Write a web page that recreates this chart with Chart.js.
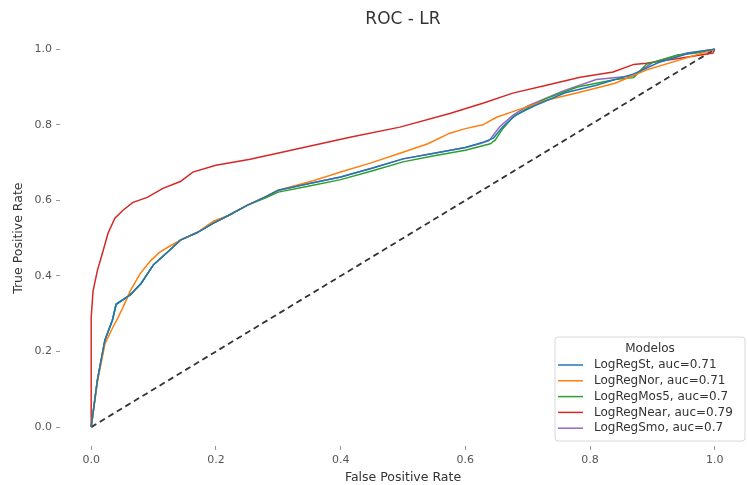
<!DOCTYPE html>
<html>
<head>
<meta charset="utf-8">
<script src="https://cdn.jsdelivr.net/npm/chart.js@4/dist/chart.umd.min.js"></script>
<style>
  html, body { margin: 0; padding: 0; background: #fff; }
  #wrap { width: 747px; height: 485px; }
</style>
</head>
<body>
<div id="wrap"><canvas id="canvas"></canvas></div>
<script>

// ROC points (fpr, tpr)
let fprSt  = [0, 0.01, 0.022, 0.034, 0.04, 0.0625, 0.08, 0.1, 0.127, 0.143, 0.17, 0.196, 0.22, 0.25, 0.28, 0.3, 0.35, 0.4, 0.45, 0.5, 0.55, 0.6, 0.63, 0.645, 0.66, 0.68, 0.71, 0.76, 0.81, 0.87, 0.91, 0.96, 1];
let tprSt  = [0, 0.125, 0.23, 0.283, 0.325, 0.35, 0.38, 0.43, 0.47, 0.495, 0.515, 0.54, 0.56, 0.587, 0.61, 0.627, 0.645, 0.662, 0.685, 0.71, 0.725, 0.74, 0.755, 0.765, 0.795, 0.825, 0.85, 0.885, 0.905, 0.935, 0.965, 0.99, 1];

let fprNor = [0, 0.01, 0.022, 0.035, 0.043, 0.051, 0.0625, 0.078, 0.095, 0.11, 0.127, 0.143, 0.17, 0.196, 0.22, 0.25, 0.28, 0.3, 0.356, 0.4, 0.45, 0.495, 0.54, 0.575, 0.6, 0.628, 0.65, 0.676, 0.73, 0.78, 0.84, 0.89, 0.94, 1];
let tprNor = [0, 0.12, 0.22, 0.265, 0.29, 0.317, 0.36, 0.405, 0.44, 0.463, 0.48, 0.495, 0.515, 0.545, 0.56, 0.587, 0.61, 0.627, 0.652, 0.675, 0.7, 0.725, 0.75, 0.778, 0.79, 0.8, 0.82, 0.835, 0.865, 0.885, 0.91, 0.945, 0.97, 1];

let fprMos = [0, 0.01, 0.022, 0.034, 0.04, 0.0625, 0.08, 0.1, 0.127, 0.143, 0.17, 0.196, 0.22, 0.25, 0.28, 0.3, 0.35, 0.4, 0.45, 0.5, 0.55, 0.6, 0.64, 0.648, 0.66, 0.676, 0.7, 0.73, 0.78, 0.84, 0.87, 0.89, 0.94, 0.97, 1];
let tprMos = [0, 0.125, 0.23, 0.283, 0.325, 0.35, 0.38, 0.43, 0.47, 0.495, 0.515, 0.54, 0.56, 0.587, 0.607, 0.622, 0.638, 0.655, 0.678, 0.702, 0.718, 0.733, 0.75, 0.76, 0.79, 0.82, 0.845, 0.87, 0.9, 0.92, 0.925, 0.96, 0.985, 0.99, 1];

let fprNear = [0, 0, 0.003, 0.01, 0.018, 0.027, 0.038, 0.051, 0.067, 0.09, 0.115, 0.143, 0.163, 0.2, 0.255, 0.335, 0.415, 0.495, 0.575, 0.628, 0.676, 0.73, 0.784, 0.837, 0.87, 0.89, 0.944, 0.997, 1];
let tprNear = [0, 0.29, 0.36, 0.415, 0.46, 0.513, 0.553, 0.574, 0.595, 0.608, 0.632, 0.65, 0.675, 0.693, 0.709, 0.738, 0.767, 0.794, 0.83, 0.857, 0.884, 0.905, 0.926, 0.94, 0.96, 0.963, 0.976, 0.99, 1];

let fprSmo = [0, 0.01, 0.022, 0.034, 0.04, 0.0625, 0.08, 0.1, 0.127, 0.143, 0.17, 0.196, 0.22, 0.25, 0.28, 0.3, 0.35, 0.4, 0.45, 0.5, 0.55, 0.6, 0.623, 0.638, 0.655, 0.676, 0.7, 0.757, 0.81, 0.87, 0.9, 0.955, 1];
let tprSmo = [0, 0.125, 0.23, 0.283, 0.325, 0.35, 0.38, 0.43, 0.47, 0.495, 0.515, 0.54, 0.56, 0.587, 0.61, 0.627, 0.645, 0.662, 0.685, 0.71, 0.725, 0.74, 0.75, 0.758, 0.795, 0.825, 0.85, 0.89, 0.92, 0.93, 0.965, 0.99, 1];

let labels = ['LogRegSt, auc=0.71', 'LogRegNor, auc=0.71', 'LogRegMos5, auc=0.7', 'LogRegNear, auc=0.79', 'LogRegSmo, auc=0.7'];
let colors = ['#1f77b4', '#ff7f0e', '#2ca02c', '#d62728', '#9467bd'];
let diagX = [0, 1];
let diagY = [0, 1];
let axisTicks = [0, 0.2, 0.4, 0.6, 0.8, 1.0];

let series = [[fprSt, tprSt], [fprNor, tprNor], [fprMos, tprMos], [fprNear, tprNear], [fprSmo, tprSmo]];

function pts(xs, ys) {
    let out = [];
    for (let i = 0; i < xs.length; i++) {
        out.push({x: xs[i], y: ys[i]});
    }
    return out;
}

let datasets = [];
for (let i = 0; i < series.length; i++) {
    datasets.push({
        label: labels[i],
        data: pts(series[i][0], series[i][1]),
        borderColor: colors[i],
        borderWidth: 1.5,
        pointRadius: 0,
        fill: false,
        tension: 0
    });
}
datasets.push({
    label: '',
    data: pts(diagX, diagY),
    borderColor: '#333333',
    borderWidth: 1.8,
    borderDash: [6, 4],
    pointRadius: 0,
    fill: false
});

const font = 'DejaVu Sans';

// matplotlib style legend box in the lower right corner
const legendBox = {
    id: 'legendBox',
    afterDraw(chart) {
        const ctx = chart.ctx;
        const a = chart.chartArea;
        const w = 190, h = 104;
        const x = a.right - w - 1, y = a.bottom - h - 5;
        ctx.save();
        ctx.beginPath();
        ctx.roundRect(x, y, w, h, 3);
        ctx.fillStyle = 'rgba(255,255,255,0.85)';
        ctx.fill();
        ctx.strokeStyle = '#d8d8d8';
        ctx.lineWidth = 1;
        ctx.stroke();

        ctx.fillStyle = '#333';
        ctx.font = '12px "' + font + '"';
        ctx.textBaseline = 'middle';
        ctx.textAlign = 'center';
        ctx.fillText('Modelos', x + w / 2, y + 12);

        ctx.textAlign = 'left';
        let row = 0;
        chart.data.datasets.forEach(function(ds) {
            if (!ds.label) return;
            const ry = y + 28 + row * 15.8;
            ctx.beginPath();
            ctx.moveTo(x + 3, ry);
            ctx.lineTo(x + 28, ry);
            ctx.strokeStyle = ds.borderColor;
            ctx.lineWidth = 1.5;
            ctx.stroke();
            ctx.fillStyle = '#333';
            ctx.fillText(ds.label, x + 39, ry);
            row++;
        });
        ctx.restore();
    }
};

function axis(title, isX) {
    return {
        type: 'linear',
        min: -0.05,
        max: 1.05,
        afterBuildTicks: function(scale) {
            scale.ticks = axisTicks.map(function(v) { return {value: v}; });
        },
        afterFit: function(scale) {
            if (isX) scale.height = 39;
            else scale.width = 60;
        },
        border: {display: false},
        grid: {
            drawOnChartArea: false,
            drawTicks: true,
            tickLength: 4,
            tickColor: '#999'
        },
        ticks: {
            color: '#555',
            padding: 4,
            font: {family: font, size: 11},
            callback: function(v) { return Number(v).toFixed(1); }
        },
        title: {
            display: true,
            text: title,
            color: '#333',
            font: {family: font, size: 12.5},
            padding: isX ? {top: 4, bottom: 0} : {top: 11, bottom: 0}
        }
    };
}

let options = {
    type: 'line',
    data: {datasets: datasets},
    options: {
        responsive: true,
        maintainAspectRatio: false,
        animation: false,
        layout: {padding: {left: 0, right: 1, top: 0, bottom: 0}},
        plugins: {
            legend: {display: false},
            tooltip: {enabled: false},
            title: {
                display: true,
                text: 'ROC - LR',
                fullSize: false,
                color: '#333',
                font: {family: font, size: 17, weight: 'normal'},
                padding: {top: 9, bottom: 1}
            }
        },
        scales: {
            x: axis('False Positive Rate', true),
            y: axis('True Positive Rate', false)
        }
    },
    plugins: [legendBox]
};

let chart = new Chart(document.getElementById('canvas'), options);

</script>
</body>
</html>
